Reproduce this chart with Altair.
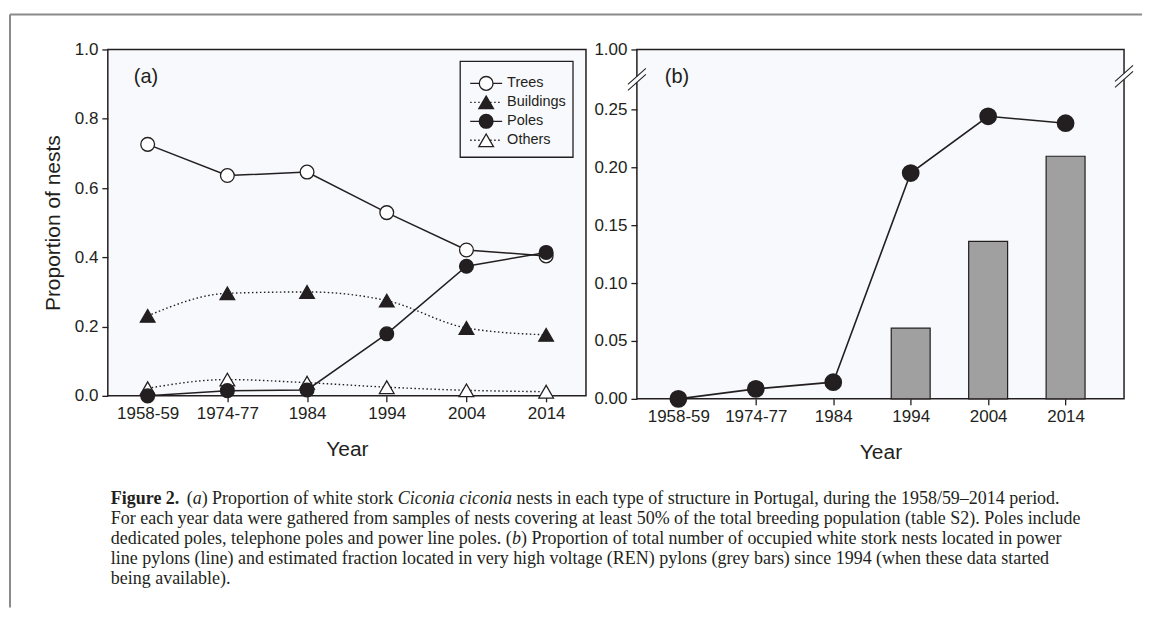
import altair as alt
import pandas as pd

# ---------------- data ----------------
years = ["1958-59", "1974-77", "1984", "1994", "2004", "2014"]
series_names = ["Trees", "Buildings", "Poles", "Others"]
trees = [0.726, 0.636, 0.646, 0.529, 0.421, 0.404]
buildings = [0.231, 0.296, 0.300, 0.275, 0.196, 0.176]
poles = [0.000, 0.015, 0.017, 0.179, 0.374, 0.414]
others = [0.022, 0.047, 0.038, 0.025, 0.016, 0.012]

pylon_line = [0.000, 0.0086, 0.0144, 0.195, 0.244, 0.238]
ren_years = ["1994", "2004", "2014"]
ren_bars = [0.061, 0.136, 0.2095]

b_ticks = [0, 0.05, 0.10, 0.15, 0.20, 0.25]
b_top = 0.3017  # broken axis: top of panel (b) is labelled 1.00

caption_bold = "Figure 2."
# each caption line as (text, italic?) pieces
caption_lines = [
    [("(", False), ("a", True), (") Proportion of white stork ", False),
     ("Ciconia ciconia", True),
     (" nests in each type of structure in Portugal, during the 1958/59\u20132014 period.", False)],
    [("For each year data were gathered from samples of nests covering at least 50% of the total breeding population (table S2). Poles include", False)],
    [("dedicated poles, telephone poles and power line poles. (", False), ("b", True),
     (") Proportion of total number of occupied white stork nests located in power", False)],
    [("line pylons (line) and estimated fraction located in very high voltage (REN) pylons (grey bars) since 1994 (when these data started", False)],
    [("being available).", False)],
]

# ---------------- styles ----------------
DARK = "#231f20"
TINT = "#f8f9fc"
FRAME = "#8a8a8a"
SANS = "Liberation Sans"
SERIF = "Liberation Serif"
W_A, H_A = 479, 347
W_B, H_B = 488, 350
DOTS = [1.5, 2.5]

# Liberation Serif (Times-compatible) advance widths, used to place italic pieces
_REG = {" ": 250, "(": 333, ")": 333, ",": 250, ".": 250, "/": 278, "\u2013": 500, "%": 833,
        "a": 444, "b": 500, "c": 444, "d": 500, "e": 444, "f": 333, "g": 500, "h": 500,
        "i": 278, "j": 278, "k": 500, "l": 278, "m": 778, "n": 500, "o": 500, "p": 500,
        "q": 500, "r": 333, "s": 389, "t": 278, "u": 500, "v": 500, "w": 722, "x": 500,
        "y": 500, "z": 444, "P": 556, "C": 667}
_ITA = {" ": 250, "a": 500, "b": 500, "C": 667, "i": 278, "c": 444, "o": 500, "n": 500}


def text_width(s, size, italic=False):
    table = _ITA if italic else _REG
    return sum(table.get(ch, 500) for ch in s) * size / 1000.0


one = pd.DataFrame({"k": [0]})


def rule(x1, y1, x2, y2, color=DARK, width=1.2, dash=None):
    kw = dict(color=color, strokeWidth=width)
    if dash:
        kw["strokeDash"] = dash
    return alt.Chart(one).mark_rule(**kw).encode(
        x=alt.value(x1), y=alt.value(y1), x2=alt.value(x2), y2=alt.value(y2)
    )


def label(txt, x, y, size, font=SANS, weight="normal", color=DARK, style="normal"):
    return alt.Chart(one).mark_text(
        text=txt, align="left", baseline="middle", font=font, fontSize=size,
        fontWeight=weight, fontStyle=style, color=color
    ).encode(x=alt.value(x), y=alt.value(y))


# ---------------- panel (a) ----------------
df_a = pd.DataFrame({
    "year": years * 4,
    "series": [s for s in series_names for _ in years],
    "value": trees + buildings + poles + others,
})

x_a = alt.X("year:N", sort=years,
            scale=alt.Scale(type="point", domain=years, padding=0.5),
            axis=alt.Axis(title="Year", labelAngle=0, titlePadding=17))
y_a = alt.Y("value:Q", scale=alt.Scale(domain=[0, 1], nice=False),
            axis=alt.Axis(title="Proportion of nests",
                          values=[0, 0.2, 0.4, 0.6, 0.8, 1.0], format=".1f",
                          titlePadding=11))
base_a = alt.Chart(df_a).encode(x=x_a, y=y_a)

styles = {
    "Trees": dict(dotted=False, shape="circle", fill="white", size=190),
    "Buildings": dict(dotted=True, shape="triangle-up", fill=DARK, size=215),
    "Others": dict(dotted=True, shape="triangle-up", fill="white", size=215),
    "Poles": dict(dotted=False, shape="circle", fill=DARK, size=190),
}
order = ["Trees", "Buildings", "Others", "Poles"]

lines_a = []
points_a = []
for name in order:
    st = styles[name]
    sub = base_a.transform_filter(alt.datum.series == name)
    if st["dotted"]:
        lines_a.append(sub.mark_line(color=DARK, strokeWidth=1.4,
                                     strokeDash=DOTS, interpolate="monotone"))
    else:
        lines_a.append(sub.mark_line(color=DARK, strokeWidth=1.5))
    points_a.append(sub.mark_point(shape=st["shape"], filled=True, fill=st["fill"],
                                   stroke=DARK, strokeWidth=1.3, size=st["size"],
                                   opacity=1))

# legend (boxed key inside panel a)
LX0, LX1, LY0, LY1 = 353, 466, 12, 108
legend_parts = [
    alt.Chart(one).mark_rect(fill=TINT, stroke=DARK, strokeWidth=1.3).encode(
        x=alt.value(LX0), x2=alt.value(LX1), y=alt.value(LY0), y2=alt.value(LY1))
]
for i, name in enumerate(series_names):
    st = styles[name]
    yy = LY0 + 22 + 19 * i
    legend_parts.append(rule(LX0 + 10, yy, LX0 + 42, yy, DARK, 1.4,
                             DOTS if st["dotted"] else None))
    legend_parts.append(
        alt.Chart(one).mark_point(shape=st["shape"], filled=True, fill=st["fill"],
                                  stroke=DARK, strokeWidth=1.3, size=st["size"],
                                  opacity=1)
        .encode(x=alt.value(LX0 + 26), y=alt.value(yy)))
    legend_parts.append(label(name, LX0 + 47, yy, 14.5))

# outer frame and caption (drawn relative to panel (a))
frame = [rule(-98, -35, 1036, -35, FRAME, 2), rule(-98, -35, -98, 559, FRAME, 2)]
cap_x = 3
cap_size = 18
cap = [label(caption_bold, cap_x, 450, cap_size, SERIF, "bold")]
for i, pieces in enumerate(caption_lines):
    x = cap_x + (76 if i == 0 else 0)
    y = 450 + 20 * i
    for txt, ital in pieces:
        stripped = txt.lstrip(" ")
        x += text_width(txt[:len(txt) - len(stripped)], cap_size, ital)
        cap.append(label(stripped, x, y, cap_size, SERIF,
                         style="italic" if ital else "normal"))
        x += text_width(stripped, cap_size, ital)

chart_a = alt.layer(
    *frame, *lines_a, *points_a, *legend_parts,
    label("(a)", 26, 28, 20), *cap
).properties(width=W_A, height=H_A)

# ---------------- panel (b) ----------------
df_bl = pd.DataFrame({"year": years, "value": pylon_line})
df_bb = pd.DataFrame({"year": ren_years, "value": ren_bars})

x_b = alt.X("year:N", sort=years,
            scale=alt.Scale(type="point", domain=years, padding=0.645, align=0.415),
            axis=alt.Axis(title="Year", labelAngle=0, titlePadding=17))
y_b = alt.Y("value:Q", scale=alt.Scale(domain=[0, b_top], nice=False),
            axis=alt.Axis(title=None, values=b_ticks + [b_top],
                          labelExpr="datum.value > 0.26 ? '1.00' : format(datum.value, '.2f')"))

bars = alt.Chart(df_bb).mark_bar(size=39, fill="#a0a0a0", stroke=DARK,
                                 strokeWidth=1.2).encode(x=x_b, y=y_b)
line_b = alt.Chart(df_bl).mark_line(color=DARK, strokeWidth=1.6).encode(x=x_b, y=y_b)
pts_b = alt.Chart(df_bl).mark_point(shape="circle", filled=True, fill=DARK, stroke=DARK,
                                    size=250, opacity=1).encode(x=x_b, y=y_b)


def axis_break(cx, cy):
    return [
        rule(cx, cy - 3, cx, cy + 3, TINT, 4),
        rule(cx - 9, cy + 5, cx + 9, cy - 11, DARK, 1.1),
        rule(cx - 9, cy + 11, cx + 9, cy - 5, DARK, 1.1),
    ]


chart_b = alt.layer(
    bars, line_b, pts_b, *axis_break(0, 30), *axis_break(W_B, 27),
    label("(b)", 28, 28, 20)
).properties(width=W_B, height=H_B)

# ---------------- assemble ----------------
chart = alt.hconcat(chart_a, chart_b, spacing=51, bounds="flush").properties(
    padding={"left": 0, "top": 4, "right": 0, "bottom": 0}
).configure_view(
    stroke=DARK, strokeWidth=1.5, fill=TINT
).configure_axis(
    labelFont=SANS, labelFontSize=17, labelColor=DARK, labelPadding=4,
    titleFont=SANS, titleFontSize=21, titleFontWeight="normal", titleColor=DARK,
    tickColor=DARK, tickSize=6, tickWidth=1.3, domain=False, grid=False
)

chart.save("out.html", embed_options={"renderer": "svg", "actions": False})
